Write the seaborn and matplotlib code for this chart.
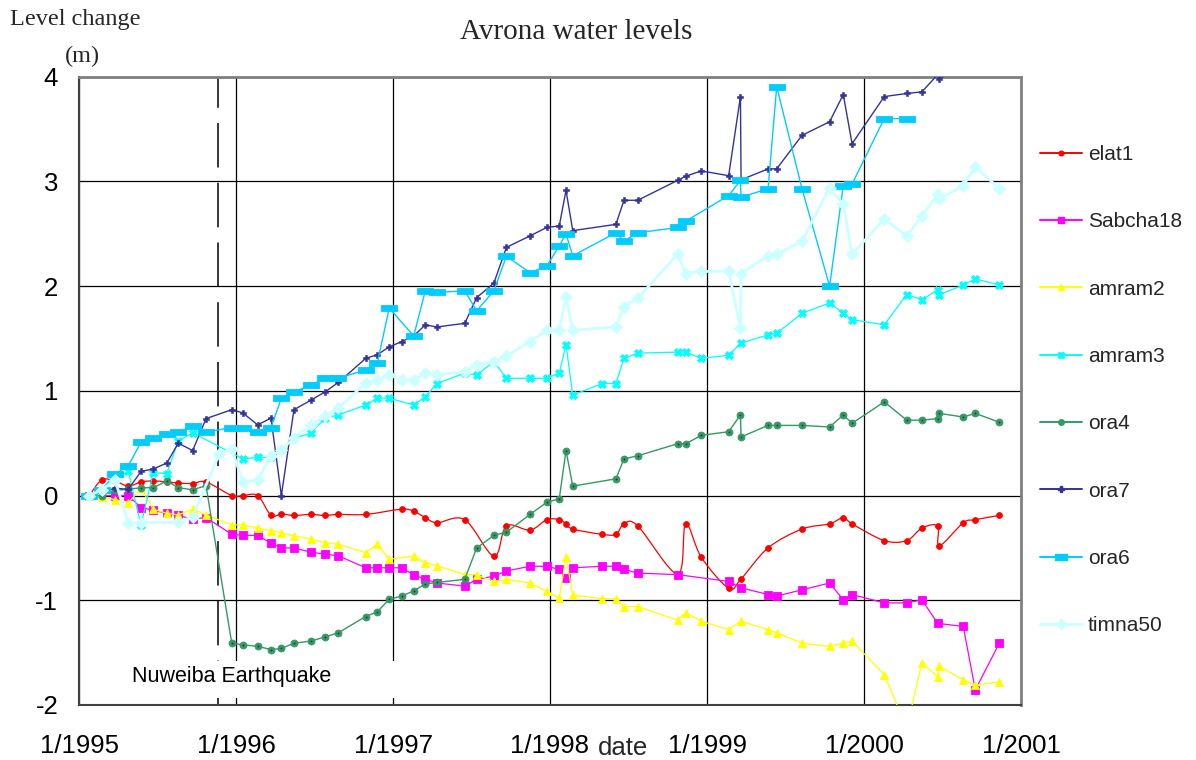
import numpy as np
import matplotlib
matplotlib.use("Agg")
import matplotlib.pyplot as plt
from matplotlib.path import Path
from matplotlib.patches import PathPatch, Rectangle
from matplotlib.lines import Line2D
import seaborn as sns

# ---------------------------------------------------------------- data
# Dates are decimal years; values are level change in metres.
elat1_date = [1995.066, 1995.145, 1995.229, 1995.314, 1995.395, 1995.473, 1995.559, 1995.632, 1995.724, 1995.809,
              1995.973, 1996.043, 1996.138, 1996.223, 1996.289, 1996.369, 1996.476, 1996.567, 1996.652, 1996.826,
              1997.055, 1997.132, 1997.206, 1997.280, 1997.457, 1997.643, 1997.722, 1997.873, 1997.979,
              1998.059, 1998.102, 1998.145, 1998.331, 1998.420, 1998.471, 1998.559, 1998.813, 1998.864, 1998.964,
              1999.138, 1999.215, 1999.389, 1999.605, 1999.781, 1999.868, 1999.924,
              2000.129, 2000.272, 2000.369, 2000.469, 2000.480, 2000.632, 2000.709, 2000.862]
elat1_level = [0, 0.15, 0.14, 0.09, 0.13, 0.14, 0.13, 0.12, 0.115, 0.13,
               0.0, 0.0, 0.0, -0.19, -0.175, -0.19, -0.18, -0.19, -0.18, -0.18,
               -0.13, -0.15, -0.21, -0.26, -0.23, -0.58, -0.29, -0.33, -0.23,
               -0.23, -0.27, -0.32, -0.37, -0.37, -0.27, -0.29, -0.75, -0.27, -0.59,
               -0.885, -0.80, -0.50, -0.32, -0.27, -0.21, -0.27,
               -0.43, -0.43, -0.31, -0.29, -0.48, -0.26, -0.23, -0.19]

sabcha18_date = [1995.066, 1995.229, 1995.314, 1995.395, 1995.473, 1995.559, 1995.632, 1995.724, 1995.809,
                 1995.973, 1996.043, 1996.138, 1996.223, 1996.289, 1996.369, 1996.476, 1996.567, 1996.652,
                 1996.826, 1996.900, 1996.976,
                 1997.055, 1997.132, 1997.206, 1997.280, 1997.457, 1997.533, 1997.643, 1997.722, 1997.873, 1997.979,
                 1998.059, 1998.102, 1998.145, 1998.331, 1998.420, 1998.471, 1998.559, 1998.813,
                 1999.138, 1999.215, 1999.389, 1999.444, 1999.605, 1999.781, 1999.868, 1999.924,
                 2000.129, 2000.272, 2000.369, 2000.469, 2000.632, 2000.709, 2000.862]
sabcha18_level = [0, 0, 0, -0.115, -0.14, -0.17, -0.19, -0.225, -0.21,
                  -0.37, -0.38, -0.38, -0.455, -0.50, -0.50, -0.54, -0.56, -0.575, -0.69, -0.69, -0.69,
                  -0.69, -0.755, -0.80, -0.835, -0.865, -0.80, -0.77, -0.72, -0.675, -0.675,
                  -0.705, -0.785, -0.69, -0.675, -0.675, -0.705, -0.74, -0.755,
                  -0.82, -0.88, -0.945, -0.96, -0.90, -0.835, -0.995, -0.945,
                  -1.025, -1.025, -0.995, -1.22, -1.25, -1.855, -1.41]

amram2_date = [1995.066, 1995.145, 1995.229, 1995.314, 1995.395, 1995.473, 1995.559, 1995.632, 1995.724, 1995.809,
               1995.973, 1996.043, 1996.138, 1996.223, 1996.289, 1996.369, 1996.476, 1996.567, 1996.652, 1996.826,
               1996.900, 1996.976,
               1997.132, 1997.206, 1997.280, 1997.457, 1997.533, 1997.643, 1997.722, 1997.873, 1997.979,
               1998.059, 1998.102, 1998.145, 1998.331, 1998.420, 1998.471, 1998.559, 1998.813, 1998.864, 1998.964,
               1999.138, 1999.215, 1999.389, 1999.444, 1999.605, 1999.781, 1999.868, 1999.924,
               2000.129, 2000.272, 2000.369, 2000.469, 2000.480, 2000.632, 2000.709, 2000.862]
amram2_level = [0, -0.01, -0.04, -0.07, 0.07, -0.13, -0.17, -0.185, -0.13, -0.185,
                -0.28, -0.28, -0.31, -0.335, -0.355, -0.385, -0.415, -0.45, -0.465, -0.545, -0.465, -0.61,
                -0.575, -0.64, -0.67, -0.755, -0.755, -0.82, -0.80, -0.835, -0.915,
                -0.98, -0.59, -0.95, -0.985, -0.985, -1.06, -1.06, -1.19, -1.12, -1.20,
                -1.28, -1.20, -1.28, -1.31, -1.41, -1.44, -1.41, -1.39,
                -1.71, -2.22, -1.60, -1.73, -1.63, -1.76, -1.81, -1.78]

amram3_date = [1995.066, 1995.145, 1995.229, 1995.314, 1995.395, 1995.473, 1995.559, 1995.632, 1995.724,
               1996.043, 1996.138, 1996.223, 1996.289, 1996.369, 1996.476, 1996.567, 1996.652, 1996.826,
               1996.900, 1996.976,
               1997.132, 1997.206, 1997.280, 1997.457, 1997.533, 1997.643, 1997.722, 1997.873, 1997.979,
               1998.059, 1998.102, 1998.145, 1998.331, 1998.420, 1998.471, 1998.559, 1998.813, 1998.864, 1998.964,
               1999.138, 1999.215, 1999.389, 1999.444, 1999.605, 1999.781, 1999.868, 1999.924,
               2000.129, 2000.272, 2000.369, 2000.469, 2000.480, 2000.632, 2000.709, 2000.862]
amram3_level = [0, 0.055, 0.16, 0.23, -0.28, 0.22, 0.21, 0.52, 0.60,
                0.35, 0.365, 0.365, 0.435, 0.55, 0.595, 0.74, 0.77, 0.865, 0.93, 0.93,
                0.865, 0.945, 1.07, 1.17, 1.15, 1.28, 1.12, 1.12, 1.12,
                1.17, 1.44, 0.96, 1.07, 1.07, 1.31, 1.36, 1.37, 1.37, 1.31,
                1.34, 1.455, 1.535, 1.55, 1.74, 1.84, 1.74, 1.68,
                1.63, 1.92, 1.87, 1.965, 1.92, 2.01, 2.07, 2.01]

ora4_date = [1995.066, 1995.145, 1995.229, 1995.314, 1995.395, 1995.473, 1995.559, 1995.632, 1995.724, 1995.809,
             1995.973, 1996.043, 1996.138, 1996.223, 1996.289, 1996.369, 1996.476, 1996.567, 1996.652, 1996.826,
             1996.900, 1996.976,
             1997.055, 1997.132, 1997.206, 1997.280, 1997.457, 1997.533, 1997.643, 1997.722, 1997.873, 1997.979,
             1998.059, 1998.102, 1998.145, 1998.420, 1998.471, 1998.559, 1998.813, 1998.864, 1998.964,
             1999.138, 1999.213, 1999.217, 1999.389, 1999.444, 1999.605, 1999.781, 1999.868, 1999.924,
             2000.129, 2000.272, 2000.369, 2000.469, 2000.480, 2000.632, 2000.709, 2000.862]
ora4_level = [0, 0, 0.05, 0.06, 0.075, 0.075, 0.14, 0.075, 0.055, 0.095,
              -1.41, -1.425, -1.44, -1.47, -1.46, -1.41, -1.39, -1.35, -1.31, -1.155, -1.11, -0.99,
              -0.96, -0.91, -0.845, -0.83, -0.80, -0.50, -0.38, -0.35, -0.18, -0.065,
              -0.03, 0.43, 0.09, 0.16, 0.35, 0.38, 0.495, 0.495, 0.575,
              0.61, 0.77, 0.56, 0.67, 0.67, 0.67, 0.655, 0.77, 0.69,
              0.895, 0.72, 0.72, 0.735, 0.785, 0.75, 0.785, 0.70]

ora7_date = [1995.066, 1995.145, 1995.229, 1995.314, 1995.395, 1995.473, 1995.559, 1995.632, 1995.724, 1995.809,
             1995.973, 1996.043, 1996.138, 1996.223, 1996.289, 1996.369, 1996.476, 1996.567, 1996.652, 1996.826,
             1996.900, 1996.976,
             1997.055, 1997.132, 1997.206, 1997.280, 1997.457, 1997.533, 1997.643, 1997.722, 1997.873, 1997.979,
             1998.059, 1998.102, 1998.145, 1998.420, 1998.471, 1998.559, 1998.813, 1998.864, 1998.964,
             1999.138, 1999.213, 1999.217, 1999.389, 1999.444, 1999.605, 1999.781, 1999.868, 1999.924,
             2000.129, 2000.272, 2000.369, 2000.469, 2000.480, 2000.632]
ora7_level = [0, 0.03, 0.07, 0.06, 0.23, 0.255, 0.31, 0.50, 0.43, 0.735,
              0.82, 0.79, 0.675, 0.74, 0.0, 0.82, 0.91, 0.99, 1.08, 1.31, 1.345, 1.42,
              1.47, 1.525, 1.63, 1.61, 1.645, 1.89, 2.03, 2.37, 2.48, 2.56,
              2.575, 2.915, 2.53, 2.59, 2.82, 2.82, 3.01, 3.05, 3.10,
              3.055, 3.81, 3.015, 3.12, 3.12, 3.44, 3.57, 3.83, 3.36,
              3.81, 3.84, 3.855, 4.02, 3.98, 4.10]

ora6_date = [1995.066, 1995.145, 1995.229, 1995.314, 1995.395, 1995.473, 1995.559, 1995.632, 1995.724, 1995.809,
             1995.973, 1996.043, 1996.138, 1996.223, 1996.289, 1996.369, 1996.476, 1996.567, 1996.652, 1996.826,
             1996.900, 1996.976,
             1997.132, 1997.206, 1997.280, 1997.457, 1997.533, 1997.643, 1997.722, 1997.873, 1997.979,
             1998.059, 1998.102, 1998.145, 1998.420, 1998.471, 1998.559, 1998.813, 1998.864,
             1999.138, 1999.213, 1999.217, 1999.389, 1999.444, 1999.605, 1999.781, 1999.868, 1999.924,
             2000.129, 2000.272]
ora6_level = [0, 0.055, 0.205, 0.285, 0.51, 0.55, 0.585, 0.605, 0.665, 0.605,
              0.65, 0.65, 0.605, 0.65, 0.93, 0.99, 1.055, 1.12, 1.12, 1.20, 1.265, 1.79,
              1.525, 1.955, 1.94, 1.955, 1.765, 1.955, 2.285, 2.13, 2.19,
              2.385, 2.50, 2.29, 2.51, 2.43, 2.51, 2.56, 2.62,
              2.865, 3.01, 2.85, 2.93, 3.905, 2.93, 2.0, 2.96, 2.975,
              3.60, 3.60]

timna50_date = [1995.066, 1995.145, 1995.229, 1995.314, 1995.395, 1995.632, 1995.724, 1995.894, 1995.973,
                1996.043, 1996.138, 1996.223, 1996.289, 1996.369, 1996.476, 1996.567, 1996.652, 1996.826,
                1996.900, 1996.976,
                1997.055, 1997.132, 1997.206, 1997.280, 1997.457, 1997.533, 1997.643, 1997.722, 1997.873, 1997.979,
                1998.059, 1998.102, 1998.145, 1998.420, 1998.471, 1998.559, 1998.813, 1998.864, 1998.964,
                1999.138, 1999.213, 1999.217, 1999.389, 1999.444, 1999.605, 1999.781, 1999.868, 1999.924,
                2000.129, 2000.272, 2000.369, 2000.469, 2000.480, 2000.632, 2000.709, 2000.862]
timna50_level = [0, 0.055, 0.15, -0.26, -0.26, -0.255, -0.20, 0.40, 0.445,
                 0.13, 0.15, 0.38, 0.435, 0.55, 0.67, 0.76, 0.835, 1.075, 1.105, 1.155,
                 1.105, 1.105, 1.17, 1.155, 1.18, 1.25, 1.28, 1.33, 1.47, 1.58,
                 1.58, 1.90, 1.58, 1.61, 1.805, 1.885, 2.305, 2.12, 2.14,
                 2.145, 1.60, 2.12, 2.29, 2.305, 2.43, 2.94, 2.78, 2.305,
                 2.64, 2.48, 2.67, 2.88, 2.83, 2.96, 3.14, 2.93]

quake_date = 1995.885          # Nuweiba earthquake, 22 Nov 1995
quake_label = "Nuweiba Earthquake"

year_ticks = [1995, 1996, 1997, 1998, 1999, 2000, 2001]
year_labels = ["1/1995", "1/1996", "1/1997", "1/1998", "1/1999", "1/2000", "1/2001"]
level_ticks = [-2, -1, 0, 1, 2, 3, 4]
level_labels = ["-2", "-1", "0", "1", "2", "3", "4"]

# ---------------------------------------------------------------- style
sns.set_theme(style="white")
plt.rcParams["font.family"] = ["Liberation Sans", "DejaVu Sans"]
plt.rcParams["lines.scale_dashes"] = False
SANS = ["Liberation Sans", "DejaVu Sans"]
SERIF = ["Liberation Serif", "DejaVu Serif"]

W, H = 1196, 760
fig = plt.figure(figsize=(W / 100, H / 100), dpi=100)
fig.patch.set_facecolor("white")
ax = fig.add_axes([79 / W, 1 - 705 / H, (1021 - 79) / W, (705 - 76.7) / H])

wide_rect = [(-1, -0.45), (1, -0.45), (1, 0.45), (-1, 0.45), (-1, -0.45)]

series = [
    # name, dates, values, colour, marker, markersize, linewidth, marker edge width
    ("elat1", elat1_date, elat1_level, "#FF0000", "o", 4.2, 0.9, 0.6),
    ("Sabcha18", sabcha18_date, sabcha18_level, "#FF00FF", "s", 5.2, 0.9, 0.6),
    ("amram2", amram2_date, amram2_level, "#FFFF00", "^", 5.8, 0.9, 0.6),
    ("amram3", amram3_date, amram3_level, "#00FFFF", "X", 5.5, 0.9, 0.6),
    ("ora4", ora4_date, ora4_level, "#339966", "o", 5.0, 1.0, 0.6),
    ("ora7", ora7_date, ora7_level, "#333399", "P", 4.6, 1.0, 0.4),
    ("ora6", ora6_date, ora6_level, "#00CCFF", wide_rect, 11.0, 1.0, 0.6),
    ("timna50", timna50_date, timna50_level, "#CCFFFF", "D", 6.0, 2.0, 0.6),
]


def smooth_path(xs, ys):
    """Cubic Bezier path through the points (Catmull-Rom tangents)."""
    pts = np.column_stack([xs, ys]).astype(float)
    n = len(pts)
    verts = [pts[0]]
    codes = [Path.MOVETO]
    for i in range(n - 1):
        p0 = pts[i - 1] if i > 0 else pts[i]
        p1, p2 = pts[i], pts[i + 1]
        p3 = pts[i + 2] if i + 2 < n else pts[i + 1]
        verts += [p1 + (p2 - p0) / 6.0, p2 - (p3 - p1) / 6.0, p2]
        codes += [Path.CURVE4] * 3
    return Path(verts, codes)


handles = []
for k, (name, xs, ys, col, mk, ms, lw, mew) in enumerate(series):
    z = 3 + k * 0.1
    if name == "elat1":
        # smoothed line, markers on the measured values
        ax.add_patch(PathPatch(smooth_path(xs, ys), facecolor="none", edgecolor=col,
                               linewidth=lw, zorder=z))
        sns.lineplot(x=xs, y=ys, ax=ax, sort=False, estimator=None, linestyle="",
                     marker=mk, markersize=ms, color=col, markeredgecolor=col,
                     markeredgewidth=mew, legend=False, zorder=z)
    else:
        sns.lineplot(x=xs, y=ys, ax=ax, sort=False, estimator=None, linewidth=lw,
                     marker=mk, markersize=ms, color=col, markeredgecolor=col,
                     markeredgewidth=mew, legend=False, zorder=z)
    if name == "ora4":
        # dark centre dot on the ora4 markers
        sns.lineplot(x=xs, y=ys, ax=ax, sort=False, estimator=None, linestyle="",
                     marker="o", markersize=1.3, color="#552222", markeredgecolor="#552222",
                     markeredgewidth=0, legend=False, zorder=z + 0.05)
    handles.append(Line2D([], [], color=col, linewidth=max(lw, 1.4), marker=mk,
                          markersize=ms * 0.8, markeredgecolor=col, label=name))

# earthquake marker line and its label
ax.axvline(quake_date, color="black", linewidth=1.1, linestyle=(0, (32, 11)), zorder=1.5)
ax.add_patch(Rectangle((1995.27, -1.93), 1.78, 0.35, facecolor="white", edgecolor="none", zorder=2))
ax.text(1995.338, -1.725, quake_label, fontsize=15.5, va="center", ha="left", color="black", zorder=2.2)

# axes, grid, ticks
ax.set_xlim(1995, 2001)
ax.set_ylim(-2, 4)
ax.set_axisbelow(True)
ax.set_xticks(year_ticks)
ax.set_xticklabels(year_labels)
ax.set_yticks(level_ticks)
ax.set_yticklabels(level_labels)
ax.grid(True, color="black", linewidth=0.9)
ax.set_xlabel("")
ax.set_ylabel("")
ax.tick_params(axis="x", direction="out", length=6, width=1, color="#333333", pad=15)
ax.tick_params(axis="y", direction="out", length=6, width=1, color="#333333", pad=9)
for lab in ax.get_xticklabels() + ax.get_yticklabels():
    lab.set_fontfamily(SANS)
    lab.set_fontsize(18.5)
    lab.set_color("black")
for side in ("left", "bottom"):
    ax.spines[side].set_color("#404040")
    ax.spines[side].set_linewidth(1.5)
for side in ("top", "right"):
    ax.spines[side].set_color("#808080")
    ax.spines[side].set_linewidth(2.0)

# titles and axis captions
fig.text(576 / W, 1 - 32 / H, "Avrona water levels", fontsize=21, family=SERIF,
         ha="center", va="center")
fig.text(10 / W, 1 - 20 / H, "Level change", fontsize=17.5, family=SERIF, ha="left", va="center")
fig.text(65 / W, 1 - 56 / H, "(m)", fontsize=17.5, family=SERIF, ha="left", va="center")
fig.text(623 / W, 1 - 748 / H, "date", fontsize=18.5, family=SANS, ha="center", va="center")

# legend on the right
fig.legend(handles=handles, loc="upper left", bbox_to_anchor=(1040 / W, 1 - 145 / H),
           frameon=False, fontsize=15, handlelength=2.0, handletextpad=0.3,
           labelspacing=2.32, borderpad=0, borderaxespad=0)

fig.savefig("out.png", dpi=100, facecolor="white")
